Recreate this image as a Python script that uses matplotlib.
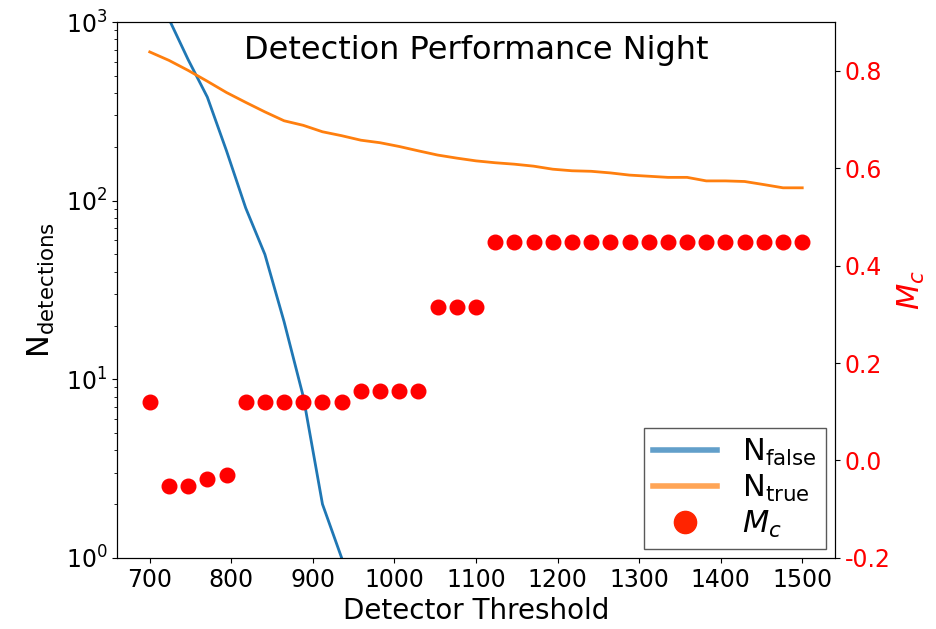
import numpy as np
import matplotlib
matplotlib.use("Agg")
import matplotlib.pyplot as plt
from matplotlib.lines import Line2D

plt.rcParams["axes.unicode_minus"] = False
plt.rcParams["mathtext.fontset"] = "dejavusans"

# detector thresholds scanned (35 steps from 700 to 1500)
thresholds = np.linspace(700, 1500, 35)

n_false = [1500, 1040, 616, 380, 190, 91, 50, 21, 8, 2, 1,
           0, 0, 0, 0, 0, 0, 0, 0, 0, 0, 0, 0, 0, 0, 0, 0, 0, 0, 0, 0, 0, 0, 0, 0]
n_true = [680, 610, 536, 466, 403, 355, 314, 280, 264, 243, 231, 218, 211,
          201, 190, 180, 173, 167, 163, 160, 156, 150, 147, 146, 143, 139,
          137, 135, 135, 129, 129, 128, 123, 118, 118]
m_c = [0.12, -0.052, -0.052, -0.037, -0.030,
       0.12, 0.12, 0.12, 0.12, 0.12, 0.12,
       0.142, 0.142, 0.142, 0.142,
       0.315, 0.315, 0.315] + [0.449] * 17

fig = plt.figure(figsize=(9.37, 6.29), dpi=100)
ax = fig.add_axes([0.125, 0.113, 0.766, 0.852])
ax2 = ax.twinx()

with np.errstate(divide="ignore"):
    ax.plot(thresholds, n_false, color="C0", lw=2)
    ax.plot(thresholds, n_true, color="C1", lw=2)
ax.set_yscale("log")
ax.set_ylim(1, 1000)
ax.set_xlim(660, 1540)
ax.set_xticks(np.arange(700, 1501, 100))

ax2.scatter(thresholds, m_c, s=110, color="red", zorder=3)
ax2.set_ylim(-0.2, 0.9)
ax2.set_yticks([-0.2, 0.0, 0.2, 0.4, 0.6, 0.8])

ax.tick_params(labelsize=17)
ax2.tick_params(axis="y", labelsize=17, labelcolor="red")
ax.set_xlabel("Detector Threshold", fontsize=20)
ax.set_ylabel(r"$\mathregular{N_{detections}}$", fontsize=22, labelpad=6)
ax2.set_ylabel(r"$M_c$", fontsize=22, color="red", labelpad=4)

ax.text(0.5, 0.975, "Detection Performance Night", transform=ax.transAxes,
        ha="center", va="top", fontsize=23)

handles = [
    Line2D([], [], color="C0", lw=4, alpha=0.7),
    Line2D([], [], color="C1", lw=4, alpha=0.7),
    Line2D([], [], ls="none", marker="o", ms=16, color="#ff2400"),
]
labels = [r"$\mathregular{N_{false}}$", r"$\mathregular{N_{true}}$", r"$M_c$"]
ax2.legend(handles, labels, loc="lower right", fontsize=22, fancybox=False,
           edgecolor="0.35", framealpha=1, borderaxespad=0.3,
           handlelength=2.1, labelspacing=0.15, borderpad=0.3)

fig.savefig("out.png", dpi=100)
